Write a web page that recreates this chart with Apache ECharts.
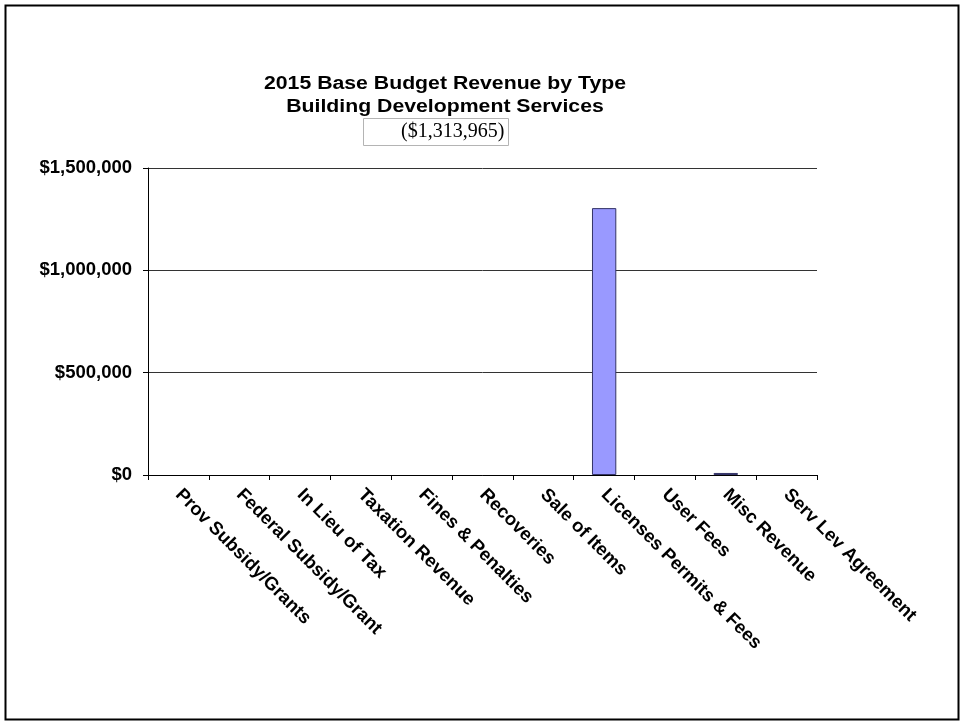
<!DOCTYPE html>
<html>
<head>
<meta charset="utf-8">
<script src="https://cdn.jsdelivr.net/npm/echarts@6/dist/echarts.min.js"></script>
<style>
  html, body { margin: 0; padding: 0; background: #fff; }
  #chart { width: 960px; height: 721px; }
</style>
</head>
<body>
<div id="chart"></div>
<script>
// Revenue categories for the 2015 base budget
const categories = [
  'Prov Subsidy/Grants', 'Federal Subsidy/Grant', 'In Lieu of Tax', 'Taxation Revenue',
  'Fines & Penalties', 'Recoveries', 'Sale of Items', 'Licenses Permits & Fees',
  'User Fees', 'Misc Revenue', 'Serv Lev Agreement'
];
// Revenue amounts in dollars
const revenue = [0, 0, 0, 0, 0, 0, 0, 1304000, 0, 9965, 0];
// Y-axis tick values
const yTicks = [0, 500000, 1000000, 1500000];
const titleLines = ['2015 Base Budget Revenue by Type', 'Building Development Services'];
const totalLabel = '($1,313,965)';

const fmt = v => '$' + v.toLocaleString('en-US');
const sans = 'Liberation Sans, Arial, sans-serif';

// empty categories get no outline so no sliver shows on the baseline
const barData = revenue.map(v => v === 0
  ? { value: v, itemStyle: { borderWidth: 0 } }
  : v);

const titleText = (text, y) => ({
  type: 'text', x: 445, y: y, scaleX: 1.18, silent: true,
  style: {
    text: text, fill: '#000', font: 'bold 18px ' + sans,
    align: 'center', verticalAlign: 'middle'
  }
});

const chart = echarts.init(document.getElementById('chart'));
chart.setOption({
  animation: false,
  backgroundColor: '#fff',
  title: {
    text: totalLabel,
    left: 363, top: 118,
    borderColor: '#b4b4b4', borderWidth: 1,
    padding: [4, 4, 4, 38],
    textStyle: { fontFamily: 'Liberation Serif, Times New Roman, serif', fontWeight: 'normal', fontSize: 20, lineHeight: 20, color: '#000' }
  },
  graphic: [
    {
      type: 'rect', left: 3, top: 3, silent: true,
      shape: { width: 953, height: 714 },
      style: { fill: 'none', stroke: '#000', lineWidth: 2 }
    },
    titleText(titleLines[0], 84.5),
    titleText(titleLines[1], 107)
  ],
  grid: { left: 148, right: 143, top: 168, bottom: 246, containLabel: false },
  xAxis: {
    type: 'category',
    data: categories,
    axisLine: { lineStyle: { color: '#000', width: 1 } },
    axisTick: { show: true, length: 5, lineStyle: { color: '#000' } },
    axisLabel: {
      rotate: -45, interval: 0, margin: 17,
      fontFamily: sans, fontWeight: 'bold', fontSize: 18.5, color: '#000'
    }
  },
  yAxis: {
    type: 'value',
    min: yTicks[0], max: yTicks[yTicks.length - 1], interval: yTicks[1] - yTicks[0],
    axisLine: { show: true, lineStyle: { color: '#000', width: 1 } },
    axisTick: { show: true, length: 5, lineStyle: { color: '#000' } },
    splitLine: { show: true, lineStyle: { color: '#333', width: 1 } },
    axisLabel: {
      formatter: fmt, margin: 16,
      fontFamily: sans, fontWeight: 'bold', fontSize: 18.5, color: '#000'
    }
  },
  series: [{
    type: 'bar',
    data: barData,
    barWidth: '40%',
    itemStyle: { color: '#9999ff', borderColor: '#333366', borderWidth: 1 }
  }]
});
</script>
</body>
</html>
